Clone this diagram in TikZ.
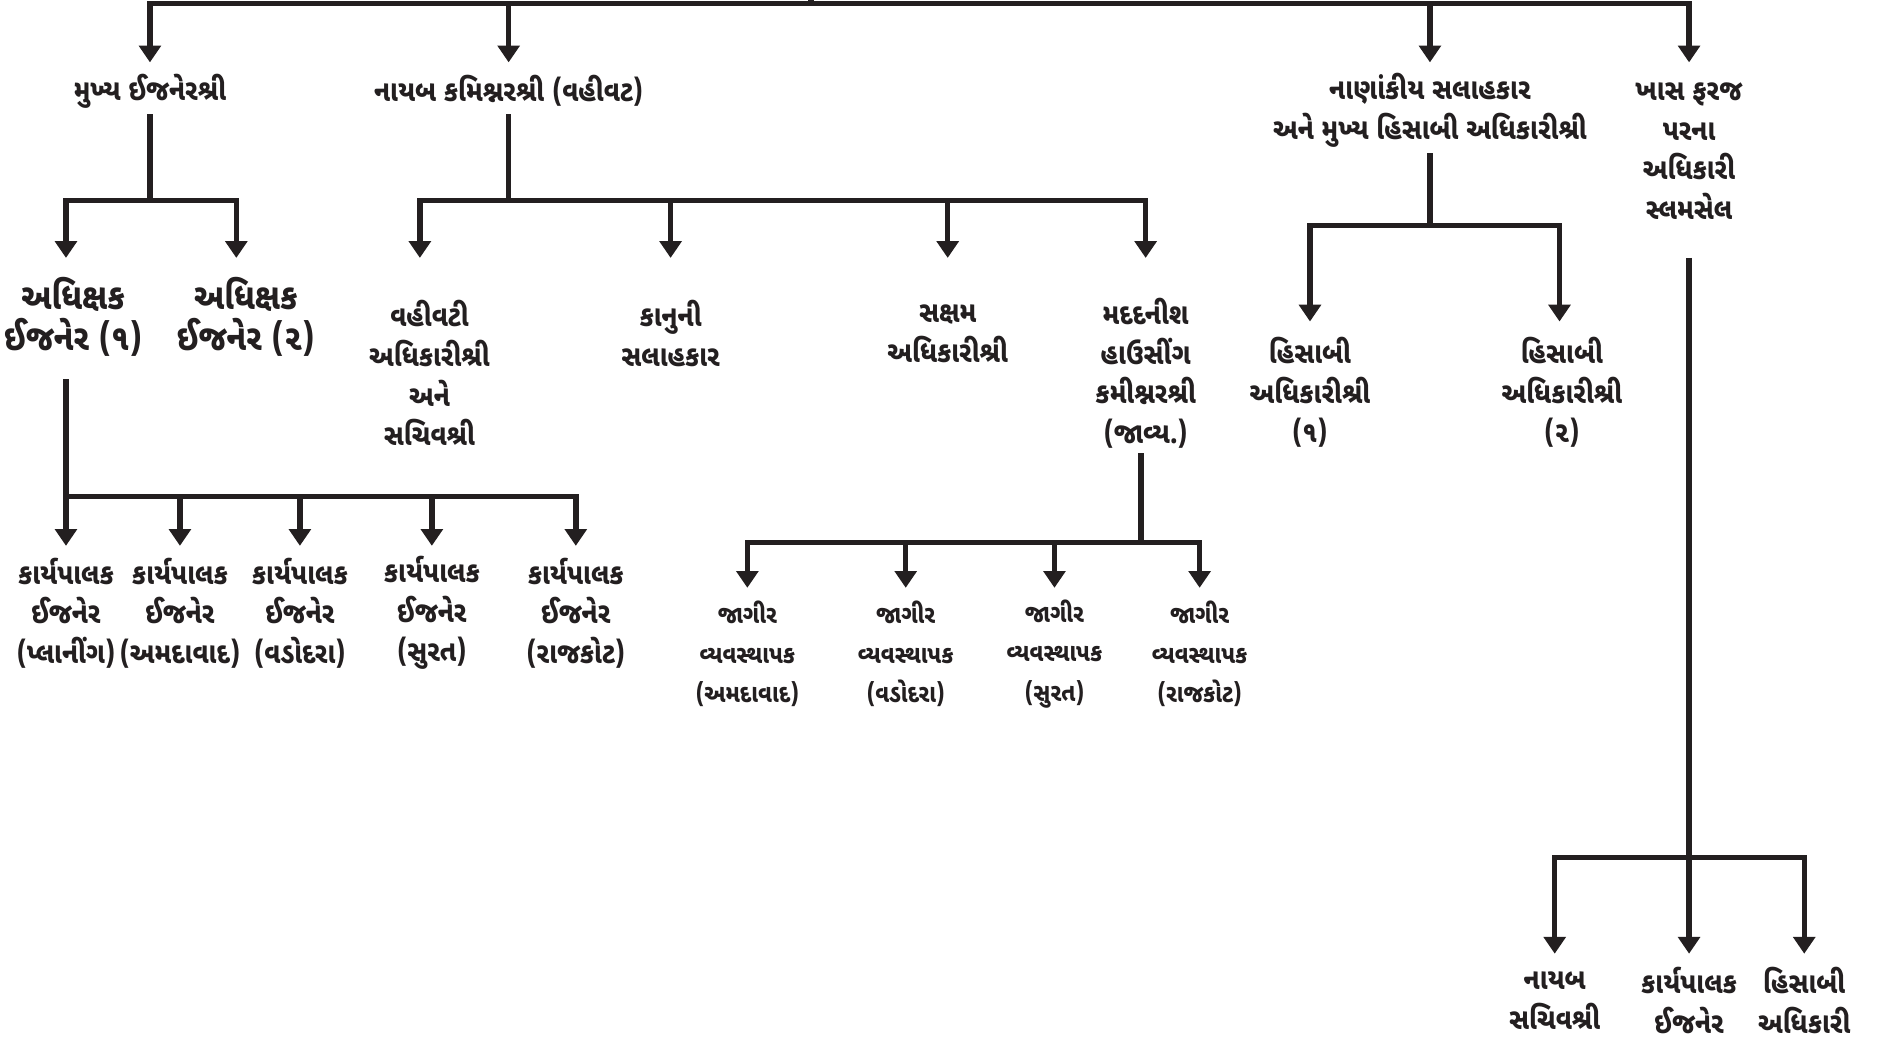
\documentclass[tikz,border=0pt]{standalone}
\usepackage{fontspec}
\newfontfamily\guj[Script=Gujarati,FakeStretch=0.88]{Noto Sans Gujarati UI}
\usetikzlibrary{arrows.meta}
\definecolor{ink}{RGB}{35,31,32}
\begin{document}
\begin{tikzpicture}[x=1pt,y=-1pt,
  lbl/.style={font=\guj\bfseries\fontsize{24.5}{33}\selectfont, align=center, inner sep=0pt, text=ink},
  big/.style={lbl, font=\guj\bfseries\fontsize{30}{34}\selectfont},
  small/.style={lbl, font=\guj\bfseries\fontsize{21}{33}\selectfont},
  wire/.style={draw=ink, line width=4.5pt, line cap=rect},
  arr/.style={draw=ink, line width=4.5pt, -{Triangle[width=18pt,length=14pt]}}]
\fill[white] (0,0) rectangle (1568,866);
\useasboundingbox (0,0) rectangle (1568,866);
\clip (0,0) rectangle (1568,866);

% level 1
\node[lbl] (A) at (125,76) {મુખ્ય ઈજનેરશ્રી};
\node[lbl] (B) at (424,76) {નાયબ કમિશ્નરશ્રી (વહીવટ)};
\node[lbl] (C) at (1192,92) {નાણાંકીય સલાહકાર\\અને મુખ્ય હિસાબી અધિકારીશ્રી};
\node[lbl] (D) at (1408,126) {ખાસ ફરજ\\પરના\\અધિકારી\\સ્લમસેલ};

% level 2
\node[big] (A1) at (61,264) {અધિક્ષક\\ઈજનેર (૧)};
\node[big] (A2) at (205,264) {અધિક્ષક\\ઈજનેર (૨)};
\node[lbl] (B1) at (358,311) {વહીવટી\\અધિકારીશ્રી\\અને\\સચિવશ્રી};
\node[lbl] (B2) at (559,278) {કાનુની\\સલાહકાર};
\node[lbl] (B3) at (790,278) {સક્ષમ\\અધિકારીશ્રી};
\node[lbl] (B4) at (955,311) {મદદનીશ\\હાઉસીંગ\\કમીશ્નરશ્રી\\(જાવ્ય.)};
\node[lbl] (C1) at (1092,327) {હિસાબી\\અધિકારીશ્રી\\(૧)};
\node[lbl] (C2) at (1302,327) {હિસાબી\\અધિકારીશ્રી\\(૨)};

% level 3
\node[lbl] (E1) at (55,511) {કાર્યપાલક\\ઈજનેર\\(પ્લાનીંગ)};
\node[lbl] (E2) at (150,511) {કાર્યપાલક\\ઈજનેર\\(અમદાવાદ)};
\node[lbl] (E3) at (250,511) {કાર્યપાલક\\ઈજનેર\\(વડોદરા)};
\node[lbl] (E4) at (360,511) {કાર્યપાલક\\ઈજનેર\\(સુરત)};
\node[lbl] (E5) at (480,511) {કાર્યપાલક\\ઈજનેર\\(રાજકોટ)};
\node[small] (J1) at (623,545) {જાગીર\\વ્યવસ્થાપક\\(અમદાવાદ)};
\node[small] (J2) at (755,545) {જાગીર\\વ્યવસ્થાપક\\(વડોદરા)};
\node[small] (J3) at (879,545) {જાગીર\\વ્યવસ્થાપક\\(સુરત)};
\node[small] (J4) at (1000,545) {જાગીર\\વ્યવસ્થાપક\\(રાજકોટ)};
\node[lbl] (D1) at (1296,834) {નાયબ\\સચિવશ્રી};
\node[lbl] (D2) at (1408,834) {કાર્યપાલક\\ઈજનેર};
\node[lbl] (D3) at (1504,834) {હિસાબી\\અધિકારી};

% top bus
\coordinate (root) at (676,0);
\draw[wire] (root) -- (root |- 0,3);
\draw[wire] (A |- 0,3) -- (D |- 0,3);
\foreach \n in {A,B,C,D} \draw[arr] (\n |- 0,3) -- (\n |- 0,52);

% A branch
\draw[wire] (A |- 0,97) -- (A |- 0,167);
\draw[wire] ([xshift=-6pt]A1 |- 0,167) -- ([xshift=-8pt]A2 |- 0,167);
\draw[arr] ([xshift=-6pt]A1 |- 0,167) -- ([xshift=-6pt]A1 |- 0,215);
\draw[arr] ([xshift=-8pt]A2 |- 0,167) -- ([xshift=-8pt]A2 |- 0,215);

% A1 branch
\draw[wire] ([xshift=-6pt]A1 |- 0,318) -- ([xshift=-6pt]A1 |- 0,414);
\draw[wire] (E1 |- 0,414) -- (E5 |- 0,414);
\foreach \n in {E1,E2,E3,E4,E5} \draw[arr] (\n |- 0,414) -- (\n |- 0,455);

% B branch
\draw[wire] (B |- 0,97) -- (B |- 0,167);
\draw[wire] ([xshift=-8pt]B1 |- 0,167) -- (B4 |- 0,167);
\draw[arr] ([xshift=-8pt]B1 |- 0,167) -- ([xshift=-8pt]B1 |- 0,215);
\foreach \n in {B2,B3,B4} \draw[arr] (\n |- 0,167) -- (\n |- 0,215);

% B4 branch
\draw[wire] ([xshift=-4pt]B4 |- 0,380) -- ([xshift=-4pt]B4 |- 0,452);
\draw[wire] (J1 |- 0,452) -- (J4 |- 0,452);
\foreach \n in {J1,J2,J3,J4} \draw[arr] (\n |- 0,452) -- (\n |- 0,490);

% C branch
\draw[wire] (C |- 0,130) -- (C |- 0,188);
\draw[wire] (C1 |- 0,188) -- ([xshift=-2pt]C2 |- 0,188);
\draw[arr] (C1 |- 0,188) -- (C1 |- 0,268);
\draw[arr] ([xshift=-2pt]C2 |- 0,188) -- ([xshift=-2pt]C2 |- 0,268);

% D branch
\draw[arr] (D |- 0,215) -- (D2 |- 0,795);
\draw[wire] (D1 |- 0,715) -- (D3 |- 0,715);
\draw[arr] (D1 |- 0,715) -- (D1 |- 0,795);
\draw[arr] (D3 |- 0,715) -- (D3 |- 0,795);
\end{tikzpicture}
\end{document}
